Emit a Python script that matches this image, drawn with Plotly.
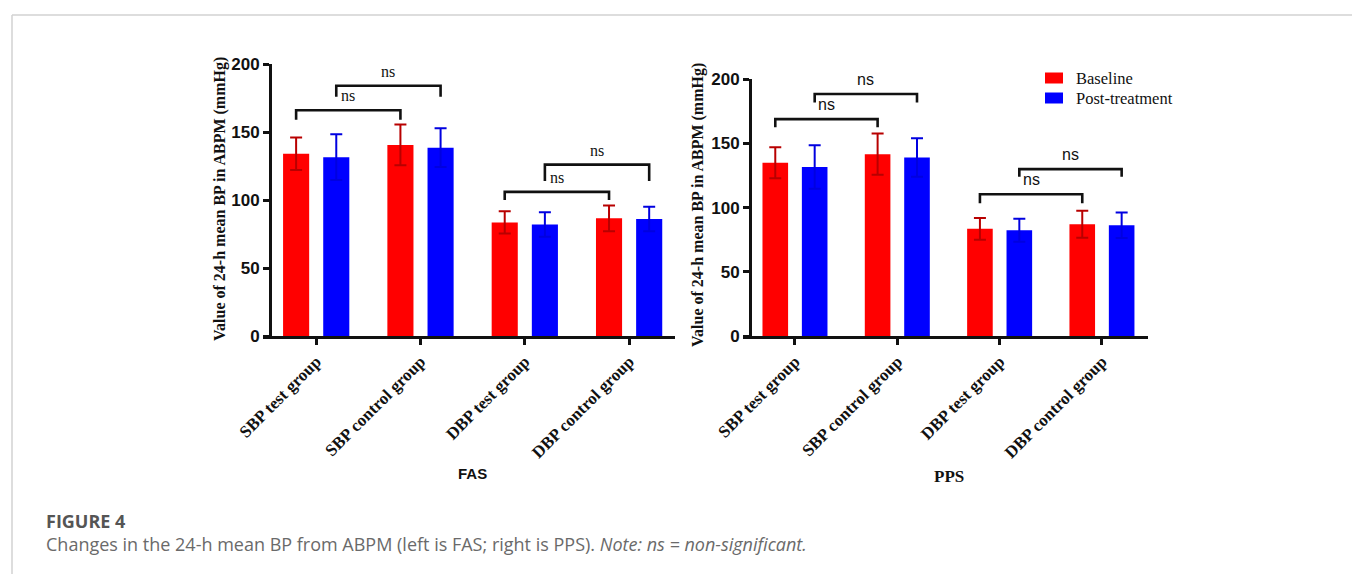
import plotly.graph_objects as go

W, H = 1360, 574
OFF = 8  # page body margin in the browser

# ---------------- data ----------------
categories = ["SBP test group", "SBP control group", "DBP test group", "DBP control group"]
series_names = ["Baseline", "Post-treatment"]

fas_baseline = [134.0, 140.5, 83.5, 86.5]
fas_baseline_sd = [12.0, 15.0, 8.2, 9.5]
fas_post = [131.5, 138.5, 82.0, 86.0]
fas_post_sd = [16.8, 14.3, 9.0, 9.0]

pps_baseline = [135.0, 141.7, 83.5, 87.0]
pps_baseline_sd = [12.0, 16.0, 8.5, 10.5]
pps_post = [131.7, 139.0, 82.4, 86.3]
pps_post_sd = [17.0, 15.0, 9.0, 10.0]

# significance brackets: from category, to category, series index, bar level, leg end
brk_from = [0, 0, 2, 2]
brk_to = [1, 1, 3, 3]
brk_series = [0, 1, 0, 1]
brk_label = ["ns", "ns", "ns", "ns"]
fas_brk_top = [166, 184, 106, 126]
fas_brk_leg = [159, 176, 100, 114]
pps_brk_top = [169, 188.6, 110.4, 130]
pps_brk_leg = [162.6, 182, 103.4, 124]

# ---------------- style ----------------
RED, BLUE = "#ff0000", "#0000ff"
RED_ERR, BLUE_ERR = "#b80000", "#0000e0"
SERIF = "Liberation Serif, Times New Roman, serif"
SANS = "Liberation Sans, Arial, sans-serif"
INK = "#111111"

BARGAP = 0.23
GROUPGAP = 0.35
slot = (1 - BARGAP) / 2
bar_off = [-slot / 2, slot / 2]


def px(x):
    return (x - OFF) / W


def py(y):
    return 1 - (y - OFF) / H


fig = go.Figure()

panels = [
    dict(x="x", y="y", base=fas_baseline, bsd=fas_baseline_sd, post=fas_post, psd=fas_post_sd,
         top=fas_brk_top, leg=fas_brk_leg, nsfont=SERIF),
    dict(x="x2", y="y2", base=pps_baseline, bsd=pps_baseline_sd, post=pps_post, psd=pps_post_sd,
         top=pps_brk_top, leg=pps_brk_leg, nsfont=SANS),
]
series_colors = [RED, BLUE]
series_err = [RED_ERR, BLUE_ERR]

idx = list(range(len(categories)))
for pi, p in enumerate(panels):
    for si, (vals, sd) in enumerate([(p["base"], p["bsd"]), (p["post"], p["psd"])]):
        fig.add_trace(go.Bar(
            x=idx, y=vals, name=series_names[si], xaxis=p["x"], yaxis=p["y"],
            marker=dict(color=series_colors[si], line=dict(width=0)),
            error_y=dict(type="data", array=sd, visible=True, color=series_err[si],
                         thickness=2, width=6),
            showlegend=False,
        ))
    xref = p["x"]
    yref = p["y"]
    for k in range(len(brk_from)):
        xa = brk_from[k] + bar_off[brk_series[k]]
        xb = brk_to[k] + bar_off[brk_series[k]]
        t, l = p["top"][k], p["leg"][k]
        fig.add_shape(type="path", xref=xref, yref=yref,
                      path=f"M {xa},{l} L {xa},{t} L {xb},{t} L {xb},{l}",
                      line=dict(color=INK, width=2.6))
        fig.add_annotation(x=(xa + xb) / 2, y=t, xref=xref, yref=yref, text=brk_label[k],
                           showarrow=False, xanchor="center", yanchor="bottom", yshift=4,
                           font=dict(family=p["nsfont"], size=16, color=INK))

axis_common = dict(showline=True, linecolor=INK, linewidth=2.8, ticks="outside",
                   ticklen=6, tickwidth=2.6, tickcolor=INK, showgrid=False, zeroline=False,
                   automargin=False)
xtickfont = dict(family=SERIF, size=17, color=INK, weight="bold")
ytickfont = dict(family=SANS, size=17, color=INK, weight="bold")

fig.update_layout(
    width=W, height=H, margin=dict(l=0, r=0, t=0, b=0, autoexpand=False),
    paper_bgcolor="white", plot_bgcolor="rgba(0,0,0,0)",
    barmode="group", bargap=BARGAP, bargroupgap=GROUPGAP,
    xaxis=dict(domain=[px(263), px(675)], range=[-0.51, 3.44], anchor="y",
               tickmode="array", tickvals=idx, ticktext=categories, tickangle=-45,
               tickfont=xtickfont, **axis_common),
    yaxis=dict(domain=[py(336), py(64)], range=[0, 200], anchor="free", position=px(270),
               tickmode="array", tickvals=[0, 50, 100, 150, 200],
               tickfont=ytickfont, **axis_common),
    xaxis2=dict(domain=[px(743), px(1148)], range=[-0.508, 3.45], anchor="y2",
                tickmode="array", tickvals=idx, ticktext=categories, tickangle=-45,
                tickfont=xtickfont, **axis_common),
    yaxis2=dict(domain=[py(336), py(79.3)], range=[0, 200], anchor="free", position=px(750),
                tickmode="array", tickvals=[0, 50, 100, 150, 200],
                tickfont=ytickfont, **axis_common),
    showlegend=False,
)

# legend (drawn as swatches + text in the right panel)
legend_rows = [78, 98]
for si, yc in enumerate(legend_rows):
    fig.add_shape(type="rect", xref="paper", yref="paper",
                  x0=px(1045), x1=px(1063), y0=py(yc + 5.5), y1=py(yc - 5.5),
                  fillcolor=series_colors[si], line=dict(width=0))
    fig.add_annotation(x=px(1074), y=py(yc), xref="paper", yref="paper", text=series_names[si],
                       showarrow=False, xanchor="left", yanchor="middle",
                       font=dict(family=SERIF, size=16.5, color=INK))

# axis titles
ytitle = "Value of 24-h mean BP in ABPM (mmHg)"
for (tx, ty) in [(220, 199), (698, 205)]:
    fig.add_annotation(x=px(tx), y=py(ty), xref="paper", yref="paper", text=f"<b>{ytitle}</b>",
                       textangle=-90, showarrow=False, xanchor="center", yanchor="middle",
                       font=dict(family=SERIF, size=16, color=INK))
fig.add_annotation(x=px(472), y=py(473), xref="paper", yref="paper", text="<b>FAS</b>",
                   showarrow=False, xanchor="center", yanchor="middle",
                   font=dict(family=SANS, size=15, color=INK))
fig.add_annotation(x=px(949), y=py(476), xref="paper", yref="paper", text="<b>PPS</b>",
                   showarrow=False, xanchor="center", yanchor="middle",
                   font=dict(family=SERIF, size=17, color=INK))

# page frame
fig.add_shape(type="line", xref="paper", yref="paper", x0=px(12), x1=1, y0=py(15), y1=py(15),
              line=dict(color="#d2d2d2", width=1.5))
fig.add_shape(type="line", xref="paper", yref="paper", x0=px(12), x1=px(12), y0=py(15), y1=0,
              line=dict(color="#d2d2d2", width=1.5))

# caption (two lines in one text block)
fig.add_annotation(x=px(44), y=py(532.5), xref="paper", yref="paper", xanchor="left",
                   yanchor="middle", align="left", showarrow=False,
                   text="<span style='color:#555555'><b>FIGURE 4</b></span><br>"
                        "Changes in the 24-h mean BP from ABPM (left is FAS; right is PPS). "
                        "<i>Note: ns = non-significant.</i>",
                   font=dict(family="Open Sans, sans-serif", size=18, color="#6a6a6a"))

fig.write_html("out.html")
